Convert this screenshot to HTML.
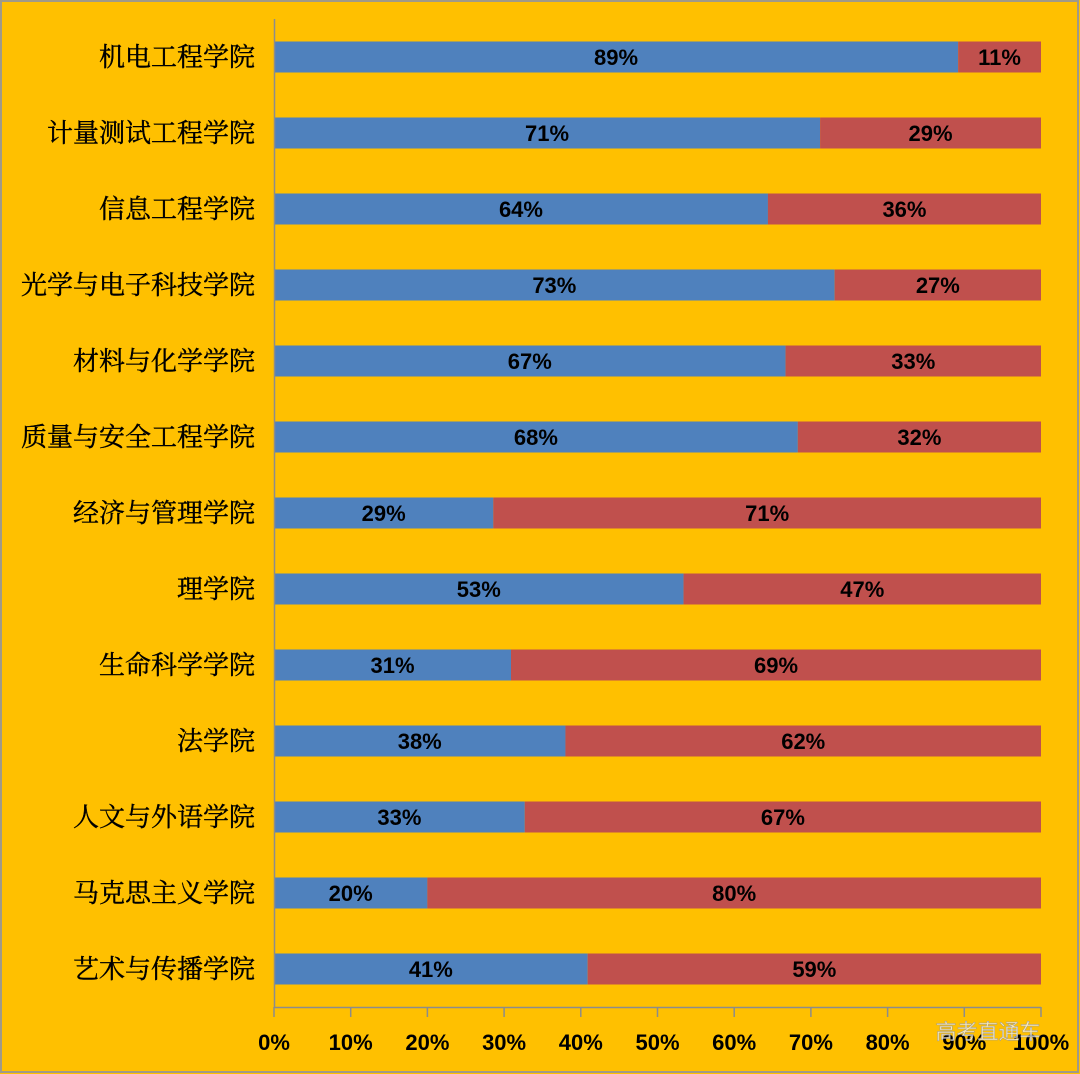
<!DOCTYPE html>
<html><head><meta charset="utf-8"><style>
html,body{margin:0;padding:0;background:#FFC000;}
svg{display:block}
</style></head><body>
<svg width="1080" height="1074" xmlns="http://www.w3.org/2000/svg">
<rect x="0" y="0" width="1080" height="1074" fill="#FFC000"/>
<rect x="1" y="1" width="1077" height="1071" fill="none" stroke="#A09A88" stroke-width="2"/>
<g id="bars"></g>
<line x1="274.5" y1="19" x2="274.5" y2="1008" stroke="#8C8C8C" stroke-width="1.5"/>
<line x1="274" y1="1007.5" x2="1041" y2="1007.5" stroke="#8C8C8C" stroke-width="1.5"/>
<g id="ticks"></g>
<text x="988" y="1039" font-family="'Liberation Sans','Noto Sans CJK SC',sans-serif" font-size="21" fill="#fff" fill-opacity="0.7" stroke="#999" stroke-width="0.5" text-anchor="middle">高考直通车</text>
<script>
var names=["机电工程学院","计量测试工程学院","信息工程学院","光学与电子科技学院","材料与化学学院","质量与安全工程学院","经济与管理学院","理学院","生命科学学院","法学院","人文与外语学院","马克思主义学院","艺术与传播学院"];
var vals=[89.2,71.2,64.4,73.1,66.7,68.3,28.6,53.4,30.9,38,32.7,20,40.9];
var labs=[89,71,64,73,67,68,29,53,31,38,33,20,41];
var ns="http://www.w3.org/2000/svg";
var g=document.getElementById("bars");
function el(t,a,txt){var e=document.createElementNS(ns,t);for(var k in a)e.setAttribute(k,a[k]);if(txt)e.textContent=txt;return e;}
var x0=274,W=767;
for(var i=0;i<13;i++){
 var cy=57+i*76.0;
 var bx=x0+W*vals[i]/100;
 g.appendChild(el("rect",{x:x0+1,y:cy-15.5,width:bx-x0-1,height:31,fill:"#4F81BD"}));
 g.appendChild(el("rect",{x:bx,y:cy-15.5,width:1041-bx,height:31,fill:"#C0504D"}));
 var f={"font-family":"'Liberation Sans',sans-serif","font-size":"22","font-weight":"bold","fill":"#000","text-anchor":"middle"};
 f.x=(x0+bx)/2;f.y=cy+8;g.appendChild(el("text",f,labs[i]+"%"));
 var f2=Object.assign({},f);f2.x=(bx+1041)/2;g.appendChild(el("text",f2,(100-labs[i])+"%"));
 g.appendChild(el("text",{x:255,y:cy+9,"font-family":"'Liberation Serif','Noto Serif CJK SC',serif","font-size":"26","fill":"#000","stroke":"#000","stroke-width":"0.4","text-anchor":"end"},names[i]));
}
var t=document.getElementById("ticks");
for(var j=0;j<=10;j++){
 var x=x0+W*j/10;
 t.appendChild(el("line",{x1:x,y1:1007,x2:x,y2:1017,stroke:"#8C8C8C","stroke-width":"1.5"}));
 t.appendChild(el("text",{x:x,y:1050,"font-family":"'Liberation Sans',sans-serif","font-size":"22","font-weight":"bold","fill":"#000","text-anchor":"middle"},(j*10)+"%"));
}
</script>
</svg>
</body></html>
